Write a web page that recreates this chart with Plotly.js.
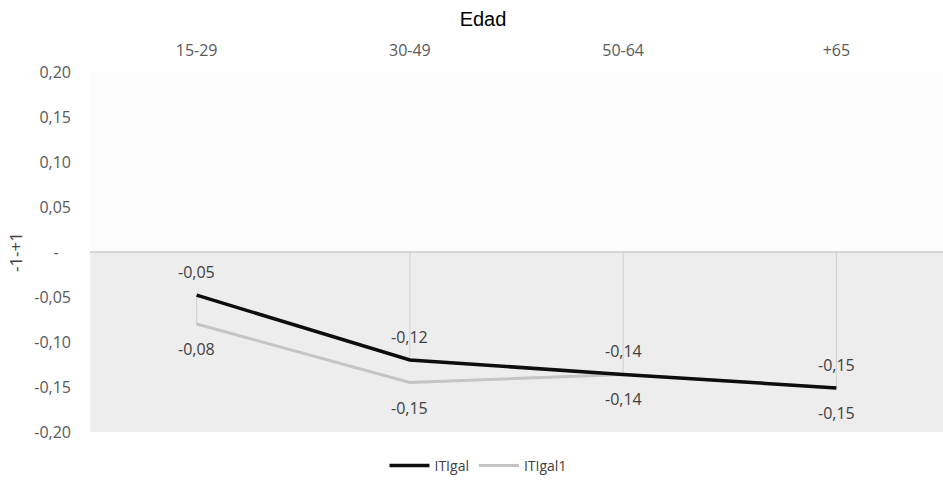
<!DOCTYPE html>
<html>
<head>
<meta charset="utf-8">
<script src="https://cdn.plot.ly/plotly-3.0.1.min.js"></script>
<style>html,body{margin:0;padding:0;background:#fff;}#chart{width:943px;height:482px;}</style>
</head>
<body>
<div id="chart"></div>
<script>
const categories = ["15-29", "30-49", "50-64", "+65"];
const itigal = [-0.048, -0.120, -0.136, -0.151];
const itigal1 = [-0.080, -0.145, -0.136, -0.151];
const labelsItigal = ["-0,05", "-0,12", "-0,14", "-0,15"];
const labelsItigal1 = ["-0,08", "-0,15", "-0,14", "-0,15"];
const yTickVals = [0.20, 0.15, 0.10, 0.05, 0, -0.05, -0.10, -0.15, -0.20];
const yTickText = ["0,20", "0,15", "0,10", "0,05", "-\u00a0\u00a0\u00a0", "-0,05", "-0,10", "-0,15", "-0,20"];
// drop line endpoints (top, bottom) for each category
const dropTop = [-0.048, 0, 0, 0];
const dropBottom = [-0.080, -0.120, -0.136, -0.151];

const dropX = [], dropY = [];
categories.forEach((c, i) => { dropX.push(c, c, null); dropY.push(dropTop[i], dropBottom[i], null); });

const font = "'Open Sans', 'Liberation Sans', sans-serif";
const traces = [
  {x: dropX, y: dropY, mode: 'lines', line: {color: '#cfcfcf', width: 1}, showlegend: false, hoverinfo: 'skip'},
  {x: categories, y: itigal1, name: 'ITIgal1', mode: 'lines', line: {color: '#c4c4c4', width: 3}},
  {x: categories, y: itigal, name: 'ITIgal', mode: 'lines', line: {color: '#0d0d0d', width: 3.5}}
];

const annotations = [];
categories.forEach((c, i) => {
  annotations.push({x: i, y: itigal[i], text: labelsItigal[i], showarrow: false, yshift: 23, font: {family: font, size: 16, color: '#404040'}});
  annotations.push({x: i, y: itigal1[i], text: labelsItigal1[i], showarrow: false, yshift: -25, font: {family: font, size: 16, color: '#404040'}});
});

const layout = {
  width: 943, height: 482,
  margin: {l: 90, r: 0, t: 72, b: 50},
  paper_bgcolor: '#ffffff',
  plot_bgcolor: '#fdfdfd',
  title: {text: 'Edad', x: 483/943, xref: 'container', xanchor: 'center', y: 1 - 19/482, yref: 'container', yanchor: 'middle',
          font: {family: "'Liberation Sans', Arial, sans-serif", size: 20, color: '#000000'}},
  xaxis: {type: 'category', side: 'top', range: [-0.5, 3.5], showgrid: false, zeroline: false, showline: false,
          ticks: '', ticklabelstandoff: 12, tickfont: {family: font, size: 16, color: '#595959'}},
  yaxis: {range: [-0.2, 0.2], tickvals: yTickVals, ticktext: yTickText, showgrid: false,
          zeroline: true, zerolinecolor: '#d6d6d6', zerolinewidth: 1.5, showline: false, ticks: '',
          ticklabelstandoff: 18, tickfont: {family: font, size: 16, color: '#595959'},
          title: {text: '-1-+1', standoff: 7, font: {family: font, size: 17, color: '#404040'}}},
  shapes: [
    {type: 'rect', xref: 'paper', x0: 0, x1: 1, yref: 'y', y0: -0.2, y1: 0, fillcolor: '#ededed', line: {width: 0}, layer: 'below'}
  ],
  annotations: annotations,
  showlegend: true,
  legend: {orientation: 'h', x: 478/943, xref: 'container', xanchor: 'center', y: 1 - 466/482, yref: 'container', yanchor: 'middle',
           traceorder: 'reversed', font: {family: font, size: 14, color: '#404040'}, itemwidth: 40}
};

Plotly.newPlot('chart', traces, layout, {displayModeBar: false, staticPlot: true});
</script>
</body>
</html>
